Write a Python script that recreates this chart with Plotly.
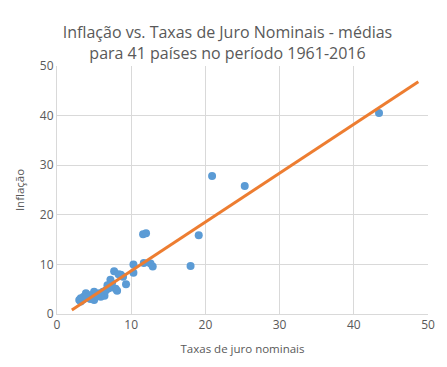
import plotly.graph_objects as go

juro = [43.4, 20.9, 25.3, 19.1, 18.0, 11.6, 12.0,
        10.3, 10.3, 11.7, 12.6, 12.9, 9.3,
        7.7, 8.6, 8.9, 7.4, 7.9, 8.1, 7.2,
        6.8, 7.0, 6.2, 6.4, 5.7, 5.9,
        5.0, 4.8, 5.0, 4.3, 3.9, 3.6, 3.2, 3.0, 3.2,
        6.6, 5.5, 4.5, 3.5, 4.0, 8.3]
inflacao = [40.5, 27.8, 25.8, 15.9, 9.7, 16.1, 16.3,
            10.0, 8.3, 10.3, 10.2, 9.6, 6.0,
            8.6, 7.9, 7.5, 6.2, 5.1, 4.7, 6.9,
            5.8, 5.2, 4.5, 3.7, 4.2, 3.5,
            4.5, 3.8, 2.8, 3.8, 4.2, 3.5, 3.2, 2.8, 2.5,
            4.8, 3.6, 3.0, 2.9, 3.3, 8.0]
trend_x = [2.0, 48.7]
trend_y = [0.8, 46.8]

fig = go.Figure()
fig.add_trace(go.Scatter(x=juro, y=inflacao, mode="markers",
                         marker=dict(color="#5B9BD5", size=8), showlegend=False))
fig.add_trace(go.Scatter(x=trend_x, y=trend_y, mode="lines",
                         line=dict(color="#ED7D31", width=3), showlegend=False))

font = "Open Sans, Noto Sans, sans-serif"
W, H = 439, 359
fig.update_layout(
    width=W, height=H,
    margin=dict(l=48, r=17, t=58, b=53),
    paper_bgcolor="white", plot_bgcolor="white",
    font=dict(family=font, color="#595959", size=12),
    title=dict(text="Inflação vs. Taxas de Juro Nominais - médias<br>para 41 países no período 1961-2016",
               x=0.5, xanchor="center", xref="container",
               y=1 - 30 / H, yanchor="middle", yref="container",
               font=dict(size=16, color="#595959", family=font)),
    xaxis=dict(range=[0, 50], tickvals=[0, 10, 20, 30, 40, 50], showgrid=True,
               gridcolor="#D9D9D9", gridwidth=1, zeroline=False, showline=True,
               linecolor="#D9D9D9", ticks="", tickfont=dict(size=12),
               title=dict(text="Taxas de juro nominais", font=dict(size=11.5), standoff=12)),
    yaxis=dict(range=[0, 50], tickvals=[0, 10, 20, 30, 40, 50], showgrid=True,
               gridcolor="#D9D9D9", gridwidth=1, zeroline=False, showline=True,
               linecolor="#D9D9D9", ticks="", tickfont=dict(size=12),
               title=dict(text="Inflação", font=dict(size=11.5), standoff=12)),
)
fig.write_html("out.html")
